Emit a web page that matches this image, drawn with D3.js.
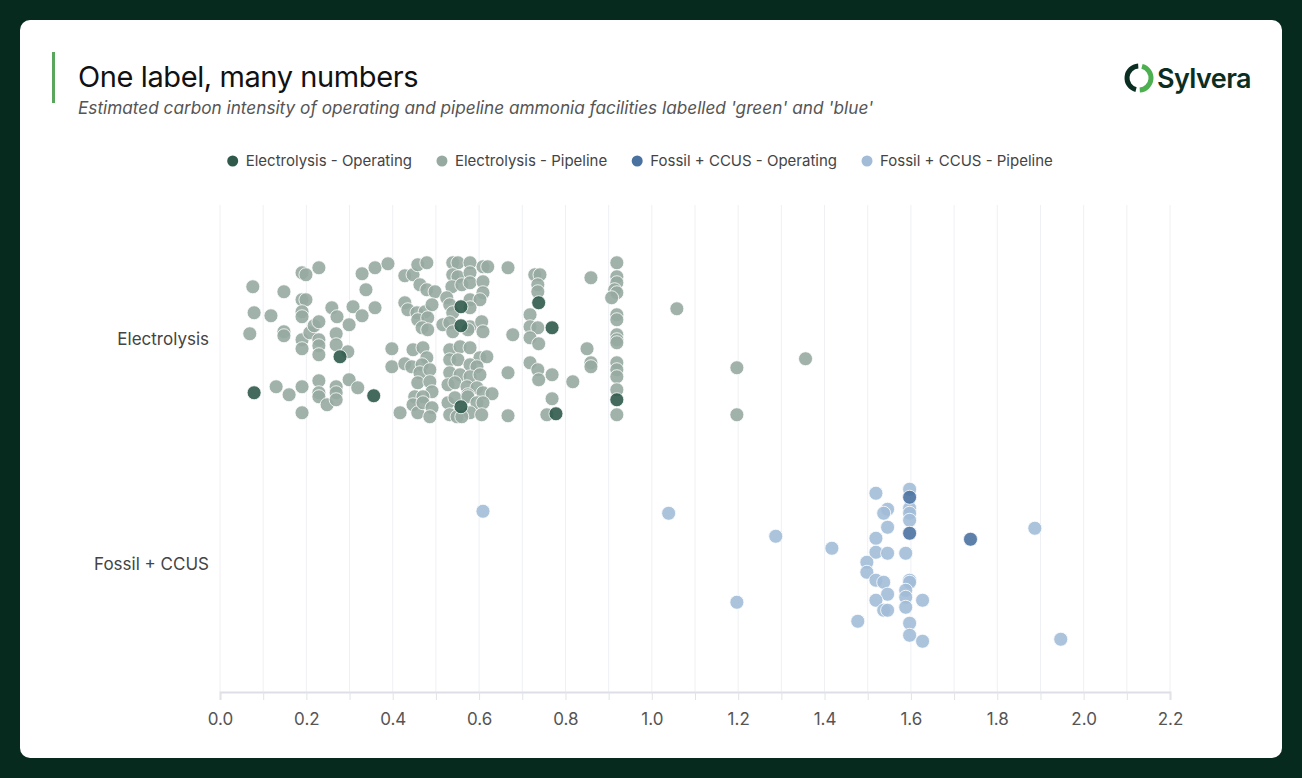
<!DOCTYPE html>
<html><head><meta charset="utf-8">
<script src="https://cdn.jsdelivr.net/npm/d3@7"></script>
<style>
html,body{margin:0;padding:0;background:#062a1e;}
svg{display:block;font-family:Inter,"Noto Sans",sans-serif;}
</style></head>
<body>
<svg id="chart" width="1302" height="778"></svg>
<script>
// ---- data ----
const categories = ["Electrolysis", "Fossil + CCUS"];
const seriesNames = ["Electrolysis - Operating", "Electrolysis - Pipeline", "Fossil + CCUS - Operating", "Fossil + CCUS - Pipeline"];
const seriesColors = ["#2f5a4b", "#97aaa1", "#4a72a0", "#a2bcd7"];
const xTicks = [0,0.2,0.4,0.6,0.8,1.0,1.2,1.4,1.6,1.8,2.0,2.2];

// [carbon intensity, vertical jitter (-1..1)]
const electrolysisOperating = [
 [0.079,0.54],[0.278,0.18],[0.356,0.57],[0.558,-0.32],[0.558,-0.13],[0.558,0.68],
 [0.738,-0.36],[0.769,-0.11],[0.778,0.75],[0.919,0.61]];
const electrolysisPipeline = [
 [0.069,-0.05],[0.076,-0.52],[0.079,-0.26],[0.118,-0.23],[0.130,0.48],[0.148,-0.47],[0.148,-0.07],[0.148,-0.03],
 [0.160,0.56],[0.190,-0.66],[0.199,-0.64],[0.190,-0.39],[0.199,-0.39],[0.190,-0.27],[0.190,-0.22],[0.190,0.01],
 [0.190,0.10],[0.190,0.48],[0.190,0.74],[0.229,-0.71],[0.208,-0.06],[0.218,-0.13],[0.229,-0.17],[0.229,0.01],
 [0.229,0.07],[0.229,0.16],[0.229,0.42],[0.229,0.54],[0.229,0.58],[0.248,0.66],[0.259,-0.31],[0.271,-0.22],
 [0.269,-0.05],[0.269,0.06],[0.269,0.48],[0.269,0.54],[0.269,0.61],[0.299,-0.14],[0.296,0.13],[0.299,0.41],
 [0.308,-0.32],[0.319,0.49],[0.329,-0.65],[0.329,-0.23],[0.338,-0.49],[0.359,-0.71],[0.359,-0.31],[0.389,-0.75],
 [0.398,0.10],[0.398,0.28],[0.417,0.74],[0.428,-0.63],[0.428,0.25],[0.428,-0.36],[0.435,-0.29],[0.447,-0.64],
 [0.458,-0.74],[0.479,-0.76],[0.447,0.11],[0.470,0.09],[0.479,0.19],[0.444,0.28],[0.468,0.26],[0.463,0.34],
 [0.486,0.31],[0.463,-0.54],[0.479,-0.49],[0.498,-0.47],[0.456,-0.26],[0.475,-0.27],[0.491,-0.34],[0.458,-0.19],
 [0.481,-0.21],[0.468,-0.11],[0.481,-0.09],[0.458,0.44],[0.486,0.43],[0.491,0.53],[0.451,0.58],[0.470,0.58],
 [0.447,0.66],[0.458,0.74],[0.470,0.64],[0.491,0.69],[0.486,0.78],[0.539,-0.76],[0.551,-0.76],[0.579,-0.76],
 [0.609,-0.72],[0.620,-0.72],[0.539,-0.64],[0.551,-0.62],[0.579,-0.66],[0.537,-0.52],[0.560,-0.54],[0.579,-0.56],
 [0.609,-0.57],[0.609,-0.46],[0.525,-0.41],[0.532,-0.34],[0.539,-0.26],[0.579,-0.39],[0.602,-0.39],[0.579,-0.31],
 [0.516,-0.14],[0.532,-0.16],[0.539,-0.07],[0.579,-0.12],[0.606,-0.17],[0.609,-0.07],[0.574,-0.09],[0.532,0.11],
 [0.556,0.08],[0.579,0.09],[0.602,0.19],[0.618,0.18],[0.532,0.21],[0.551,0.21],[0.579,0.26],[0.595,0.28],
 [0.532,0.34],[0.556,0.36],[0.579,0.38],[0.602,0.36],[0.528,0.46],[0.544,0.44],[0.572,0.48],[0.595,0.49],
 [0.574,0.56],[0.609,0.54],[0.630,0.55],[0.528,0.64],[0.544,0.59],[0.574,0.58],[0.595,0.64],[0.609,0.64],
 [0.532,0.76],[0.549,0.78],[0.579,0.74],[0.606,0.76],[0.560,0.78],[0.667,-0.71],[0.667,0.34],[0.667,0.77],
 [0.678,-0.04],[0.729,-0.64],[0.741,-0.64],[0.736,-0.54],[0.736,-0.47],[0.718,-0.24],[0.718,-0.12],[0.736,-0.11],
 [0.718,-0.01],[0.738,0.05],[0.718,0.24],[0.736,0.31],[0.738,0.41],[0.769,0.36],[0.769,0.60],[0.757,0.76],
 [0.817,0.43],[0.850,0.10],[0.859,-0.61],[0.859,0.24],[0.859,0.28],[0.919,-0.76],[0.919,-0.62],[0.919,-0.56],
 [0.914,-0.49],[0.919,-0.46],[0.907,-0.41],[0.919,-0.24],[0.919,-0.19],[0.919,-0.04],[0.919,0.01],[0.919,0.04],
 [0.919,0.24],[0.919,0.31],[0.919,0.38],[0.919,0.51],[0.919,0.76],[1.058,-0.30],[1.197,0.29],[1.356,0.20],
 [1.197,0.76]];
const fossilOperating = [[1.597,-0.67],[1.597,-0.31],[1.738,-0.25]];
const fossilPipeline = [
 [1.519,-0.71],[1.597,-0.75],[1.597,-0.56],[1.597,-0.51],[1.597,-0.44],[1.546,-0.55],[1.537,-0.51],[1.546,-0.37],
 [1.887,-0.36],[1.417,-0.16],[1.519,-0.26],[1.519,-0.12],[1.546,-0.11],[1.588,-0.11],[1.498,-0.02],[1.498,0.08],
 [1.519,0.16],[1.537,0.18],[1.546,0.30],[1.597,0.16],[1.597,0.18],[1.588,0.26],[1.588,0.33],[1.627,0.36],
 [1.519,0.36],[1.537,0.46],[1.546,0.46],[1.588,0.43],[1.477,0.57],[1.597,0.59],[1.597,0.71],[1.627,0.77],
 [1.947,0.75],[0.609,-0.53],[1.039,-0.51],[1.287,-0.28],[1.197,0.38]];

// ---- drawing ----
const svg = d3.select("#chart");
svg.append("rect").attr("x",0).attr("y",0).attr("width",1302).attr("height",778).attr("fill","#062a1e");
svg.append("rect").attr("x",20).attr("y",20).attr("width",1262).attr("height",738).attr("rx",10).attr("fill","#ffffff");

// header
svg.append("rect").attr("x",52).attr("y",52).attr("width",3).attr("height",51).attr("fill","#5aa65c");
svg.append("text").attr("x",78).attr("y",87).attr("font-size",29).attr("fill","#111").attr("font-weight",400)
  .style("letter-spacing","-0.4px").text("One label, many numbers");
svg.append("text").attr("x",78).attr("y",114).attr("font-size",17.2).attr("fill","#555").attr("font-style","italic")
  .text("Estimated carbon intensity of operating and pipeline ammonia facilities labelled 'green' and 'blue'");

// logo
const logo = svg.append("g").attr("transform","translate(1139,78)");
const arc = d3.arc().innerRadius(9.5).outerRadius(14.5);
logo.append("path").attr("d",arc({startAngle:Math.PI*1.08,endAngle:Math.PI*1.98})).attr("fill","#0b2e22");
logo.append("path").attr("d",arc({startAngle:Math.PI*0.08,endAngle:Math.PI*0.98})).attr("fill","#4caf50");
logo.append("text").attr("x",18).attr("y",10).attr("font-size",27).attr("font-weight",600).attr("fill","#0b2e22")
  .style("letter-spacing","-0.6px").text("Sylvera");

// scales
const x = d3.scaleLinear().domain([0,2.2]).range([220,1170]);
const y = d3.scaleBand().domain(categories).range([226,677]);
const jitter = d3.scaleLinear().domain([-1,1]).range([-100,100]);
const plotTop = 205, plotBottom = 692;

// gridlines every 0.1
const minor = d3.range(0,23).map(i=>i/10);
svg.append("g").selectAll("line").data(minor).join("line")
  .attr("x1",d=>x(d)).attr("x2",d=>x(d)).attr("y1",plotTop).attr("y2",plotBottom)
  .attr("stroke","#eff0f4").attr("stroke-width",1);

// axis
const axis = svg.append("g").attr("transform",`translate(0,${plotBottom})`)
  .call(d3.axisBottom(x).tickValues(minor).tickSize(8).tickFormat(d=> xTicks.some(t=>Math.abs(t-d)<1e-9) ? d3.format(".1f")(d) : ""));
axis.select(".domain").attr("stroke","#dedfe6").attr("stroke-width",2);
axis.selectAll(".tick line").attr("stroke","#e2e3e8");
axis.selectAll(".tick text").attr("font-size",17).attr("fill","#555").attr("dy","1.3em").attr("font-family","Inter,sans-serif");

// y labels
svg.append("g").selectAll("text").data(categories).join("text")
  .attr("x",209).attr("y",d=>y(d)+y.bandwidth()/2).attr("dy","0.35em").attr("text-anchor","end")
  .attr("font-size",17).attr("fill","#444").text(d=>d);

// points
const layers = [
  {data:electrolysisPipeline, cat:categories[0], color:seriesColors[1]},
  {data:fossilPipeline, cat:categories[1], color:seriesColors[3]},
  {data:electrolysisOperating, cat:categories[0], color:seriesColors[0]},
  {data:fossilOperating, cat:categories[1], color:seriesColors[2]},
];
layers.forEach(L=>{
  svg.append("g").selectAll("circle").data(L.data).join("circle")
    .attr("cx",d=>x(d[0])).attr("cy",d=>y(L.cat)+y.bandwidth()/2+jitter(d[1]))
    .attr("r",7).attr("fill",L.color).attr("fill-opacity",0.9)
    .attr("stroke","#ffffff").attr("stroke-opacity",0.8).attr("stroke-width",1);
});

// legend
const leg = svg.append("g").attr("transform","translate(0,161)");
let cx = 0;
const items = leg.selectAll("g").data(seriesNames).join("g");
items.each(function(d,i){
  const g = d3.select(this);
  g.append("circle").attr("cx",0).attr("cy",0).attr("r",5.5).attr("fill",seriesColors[i]);
  const t = g.append("text").attr("x",13).attr("y",0).attr("dy","0.35em").attr("font-size",15).attr("fill","#444").text(d);
  const w = t.node().getComputedTextLength();
  g.attr("transform",`translate(${cx},0)`);
  cx += 13 + w + 30;
});
const totalW = cx - 30 + 5.5;
leg.attr("transform",`translate(${640 - totalW/2 + 5.5},161)`);
</script>
</body></html>
